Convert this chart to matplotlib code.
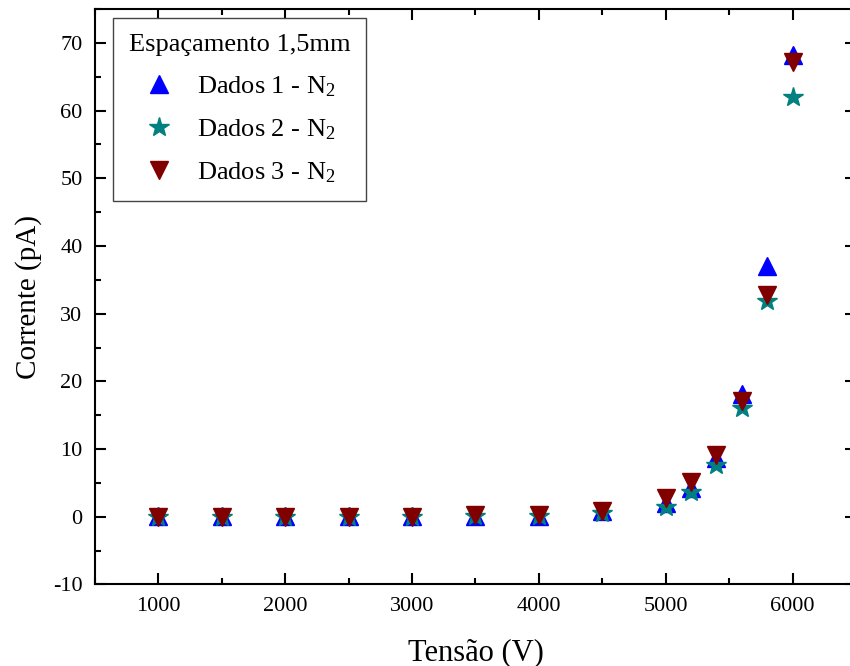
import numpy as np
import matplotlib
matplotlib.use('Agg')
import matplotlib.pyplot as plt
from matplotlib.ticker import MultipleLocator

# Current vs. voltage, 1.5 mm gap, N2
tensao = [1000, 1500, 2000, 2500, 3000, 3500, 4000, 4500, 5000, 5200, 5400, 5600, 5800, 6000]
dados1 = [0.1, 0.1, 0.1, 0.1, 0.05, 0.15, 0.15, 0.9, 2.0, 4.3, 8.7, 18.2, 37.0, 68.2]
dados2 = [-0.1, -0.1, -0.05, -0.05, -0.05, 0.05, 0.05, 0.5, 1.5, 3.7, 7.7, 16.0, 31.8, 62.0]
dados3 = [0.0, 0.0, 0.0, 0.0, -0.05, 0.2, 0.2, 0.8, 2.8, 5.1, 9.1, 17.1, 32.8, 67.2]

plt.rcParams['font.family'] = ['Liberation Serif', 'DejaVu Serif']
plt.rcParams['mathtext.default'] = 'regular'
plt.rcParams['axes.unicode_minus'] = False

fig = plt.figure(figsize=(8.5, 6.66), dpi=100)
# axes run slightly past the right edge of the figure
ax = fig.add_axes([0.1118, 0.1224, 0.8952, 0.8641])

ax.plot(tensao, dados1, linestyle='none', marker='^', color='#0000ff', markersize=13, label='Dados 1 - N$_2$')
ax.plot(tensao, dados2, linestyle='none', marker='*', color='#008080', markersize=15, label='Dados 2 - N$_2$')
ax.plot(tensao, dados3, linestyle='none', marker='v', color='#800000', markersize=13, label='Dados 3 - N$_2$')

ax.set_xlim(500, 6500)
ax.set_ylim(-10, 75)
ax.xaxis.set_major_locator(MultipleLocator(1000))
ax.xaxis.set_minor_locator(MultipleLocator(500))
ax.yaxis.set_major_locator(MultipleLocator(10))
ax.yaxis.set_minor_locator(MultipleLocator(5))
ax.tick_params(which='both', direction='in', top=True, right=True, width=1.5, labelsize=16, pad=9)
ax.tick_params(which='major', length=8)
ax.tick_params(which='minor', length=4)
for s in ax.spines.values():
    s.set_linewidth(1.5)

ax.set_xlabel('Tensão (V)', fontsize=22, labelpad=16)
ax.set_ylabel('Corrente (pA)', fontsize=21, labelpad=8)

leg = ax.legend(title='Espaçamento 1,5mm', loc='upper left', bbox_to_anchor=(0.0237, 0.984),
                borderaxespad=0, fontsize=19, title_fontsize=19, fancybox=False,
                edgecolor='#444444', framealpha=1, handlelength=1.1, handletextpad=0.9,
                labelspacing=0.7, borderpad=0.6)
leg.get_frame().set_linewidth(1.0)

fig.savefig('out.png', dpi=100)
